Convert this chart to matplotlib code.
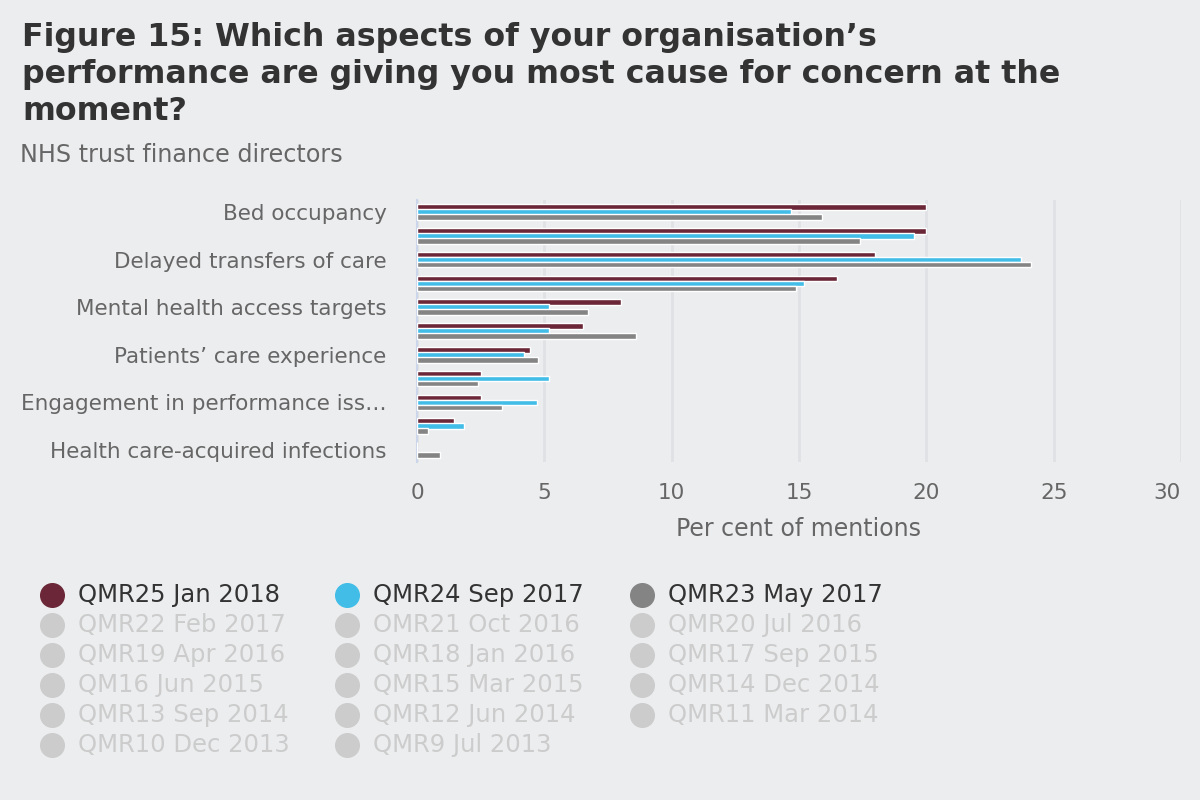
import matplotlib
matplotlib.use("Agg")
import matplotlib.pyplot as plt
import numpy as np
from matplotlib.lines import Line2D

plt.rcParams['font.family'] = ['DejaVu Sans']

categories = [
    "Bed occupancy", "",
    "Delayed transfers of care", "",
    "Mental health access targets", "",
    "Patients\u2019 care experience", "",
    "Engagement in performance iss\u2026", "",
    "Health care-acquired infections",
]
qmr25 = [20.0, 20.0, 18.0, 16.5, 8.0, 6.5, 4.45, 2.5, 2.5, 1.45, 0.0]
qmr24 = [14.7, 19.5, 23.7, 15.2, 5.2, 5.2, 4.2, 5.2, 4.7, 1.85, 0.0]
qmr23 = [15.9, 17.4, 24.1, 14.9, 6.7, 8.6, 4.75, 2.4, 3.35, 0.43, 0.9]
series_names = ["QMR25 Jan 2018", "QMR24 Sep 2017", "QMR23 May 2017"]
inactive_names = [
    "QMR22 Feb 2017", "OMR21 Oct 2016", "QMR20 Jul 2016",
    "QMR19 Apr 2016", "QMR18 Jan 2016", "QMR17 Sep 2015",
    "QM16 Jun 2015", "QMR15 Mar 2015", "QMR14 Dec 2014",
    "QMR13 Sep 2014", "QMR12 Jun 2014", "QMR11 Mar 2014",
    "QMR10 Dec 2013", "QMR9 Jul 2013",
]
xticks = [0, 5, 10, 15, 20, 25, 30]

colors = ["#6B2737", "#41BDE8", "#848484"]
bg = "#ECEDEF"

W, H = 1200, 800
fig = plt.figure(figsize=(12, 8), dpi=100, facecolor=bg)
ax = fig.add_axes([417 / W, 1 - 462 / H, (1181 - 417) / W, 262 / H])
ax.set_facecolor(bg)

y = np.arange(len(categories))
h = 0.24
offs = [-0.21, 0.0, 0.21]
for vals, c, o in zip([qmr25, qmr24, qmr23], colors, offs):
    ax.barh(y + o, vals, height=h, color=c, edgecolor="white", linewidth=1.0, zorder=3)

ax.set_xlim(0, 30)
ax.set_ylim(len(categories) - 0.5, -0.5)
ax.set_xticks(xticks)
ax.set_xticklabels([str(t) for t in xticks])
ax.get_xticklabels()[-1].set_ha("right")
ax.set_yticks(y)
ax.set_yticklabels(categories)
ax.tick_params(axis="both", length=0, labelsize=15.5, labelcolor="#666666")
ax.tick_params(axis="y", pad=22)
ax.tick_params(axis="x", pad=15)
ax.grid(axis="x", color="#E0E1E4", linewidth=2, zorder=0)
for s in ["top", "right", "bottom"]:
    ax.spines[s].set_visible(False)
ax.spines["left"].set_color("#CCD6EB")
ax.spines["left"].set_linewidth(1.5)
ax.set_xlabel("Per cent of mentions", fontsize=17, color="#666666", labelpad=10)

# Title and subtitle
title_lines = [
    "Figure 15: Which aspects of your organisation\u2019s",
    "performance are giving you most cause for concern at the",
    "moment?",
]
for i, line in enumerate(title_lines):
    fig.text(22 / W, 1 - (46 + 37 * i) / H, line, fontsize=22.8, fontweight="bold",
             color="#333333", va="baseline", ha="left")
fig.text(20 / W, 1 - 162 / H, "NHS trust finance directors", fontsize=17.2,
         color="#666666", va="baseline", ha="left")

# Legend
all_names = series_names + inactive_names
col_x = [52, 347, 642]
row_y0, row_dy = 595, 30
for k, name in enumerate(all_names):
    r, c = divmod(k, 3)
    yy = row_y0 + r * row_dy
    active = k < 3
    mc = colors[k] if active else "#CCCCCC"
    tc = "#333333" if active else "#CCCCCC"
    fig.add_artist(Line2D([col_x[c] / W], [1 - yy / H], marker="o", markersize=17,
                          color=mc, linestyle="none", transform=fig.transFigure))
    fig.text((col_x[c] + 26) / W, 1 - yy / H, name, fontsize=17.5, color=tc,
             va="center", ha="left")

fig.savefig("out.png", dpi=100, facecolor=bg)
